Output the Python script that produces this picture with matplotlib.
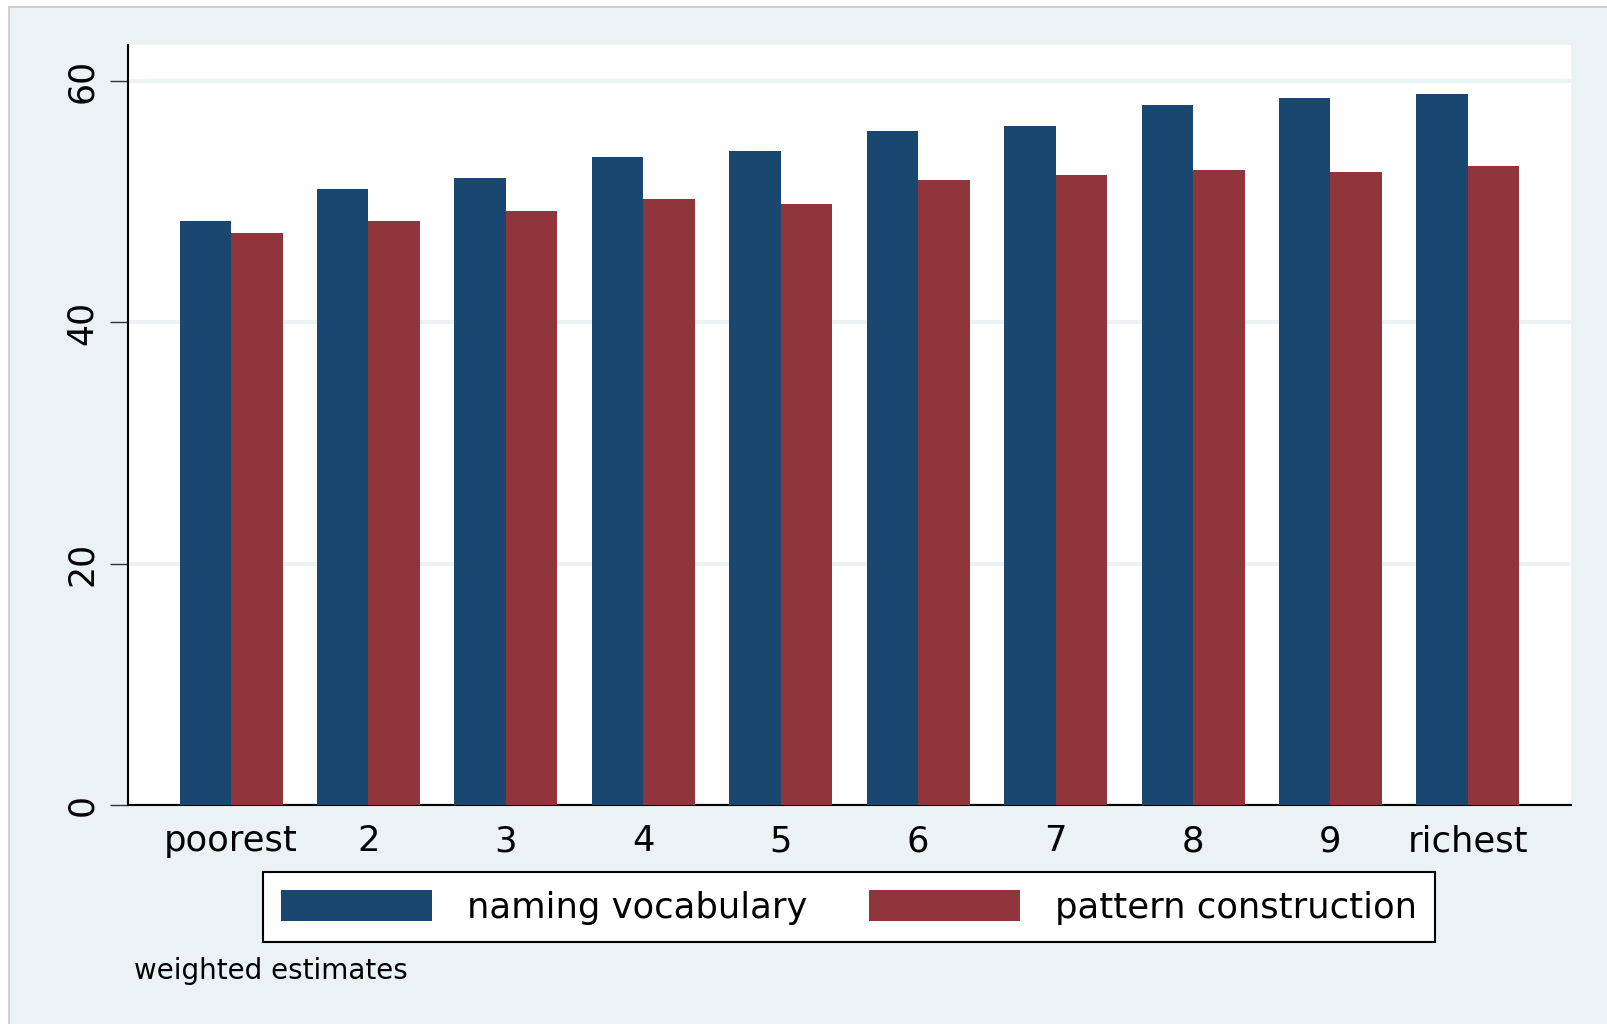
import matplotlib
matplotlib.use("Agg")
import matplotlib.pyplot as plt
from matplotlib.patches import Rectangle
import numpy as np

categories = ["poorest", "2", "3", "4", "5", "6", "7", "8", "9", "richest"]
naming_vocabulary = [48.4, 51.1, 52.0, 53.7, 54.2, 55.9, 56.3, 58.0, 58.6, 58.9]
pattern_construction = [47.4, 48.4, 49.2, 50.2, 49.8, 51.8, 52.2, 52.6, 52.5, 53.0]
yticks = [0, 20, 40, 60]
series_labels = ["naming vocabulary", "pattern construction"]
note = "weighted estimates"

BG = "#EAF2F3"
NAVY = "#1A476F"
MAROON = "#90353B"

plt.rcParams["font.family"] = ["DejaVu Sans"]

W, H, DPI = 1608, 1024, 100
fig = plt.figure(figsize=(W / DPI, H / DPI), dpi=DPI, facecolor="white")
fig.patches.append(Rectangle((9 / W, -0.01), 1.02, 1 - 7 / H + 0.01,
                             transform=fig.transFigure, facecolor=BG,
                             edgecolor="#C8C8C8", lw=1.2, zorder=-10))

ax = fig.add_axes([128 / W, 1 - 805 / H, (1571 - 128) / W, (805 - 45) / H])
ax.set_facecolor("white")

x = np.arange(len(categories))
w = 0.375
ax.bar(x - w / 2, naming_vocabulary, width=w, color=NAVY, label=series_labels[0], zorder=3)
ax.bar(x + w / 2, pattern_construction, width=w, color=MAROON, label=series_labels[1], zorder=3)

ax.set_xlim(-0.75, len(categories) - 0.25)
ax.set_ylim(0, 63)
ax.set_yticks(yticks)
ax.set_yticklabels([str(t) for t in yticks], rotation=90, va="center", fontsize=25)
ax.set_xticks(x)
ax.set_xticklabels(categories, fontsize=25.5)
ax.tick_params(axis="x", length=0, pad=14)
ax.tick_params(axis="y", length=13, width=1.0, pad=8, color="#333333")
ax.yaxis.grid(True, color=BG, lw=2.8, zorder=1)
ax.set_axisbelow(True)

for s in ["top", "right"]:
    ax.spines[s].set_visible(False)
for s in ["left", "bottom"]:
    ax.spines[s].set_color("black")
    ax.spines[s].set_linewidth(1.5)

leg = ax.legend(loc="center", bbox_to_anchor=((253 + 1403) / 2 / 1568, 1 - (853 + 917) / 2 / 999),
                bbox_transform=fig.transFigure, ncol=2, fontsize=25.5, frameon=True,
                fancybox=False, edgecolor="black", framealpha=1, handlelength=4.25,
                handleheight=1.0, handletextpad=1.0, columnspacing=1.75,
                borderpad=0.5, borderaxespad=0)
leg.get_frame().set_linewidth(1.5)

fig.text(134 / W, 1 - 971 / H, note, fontsize=20, ha="left", va="center")

fig.savefig("out.png", dpi=DPI, facecolor=fig.get_facecolor())
